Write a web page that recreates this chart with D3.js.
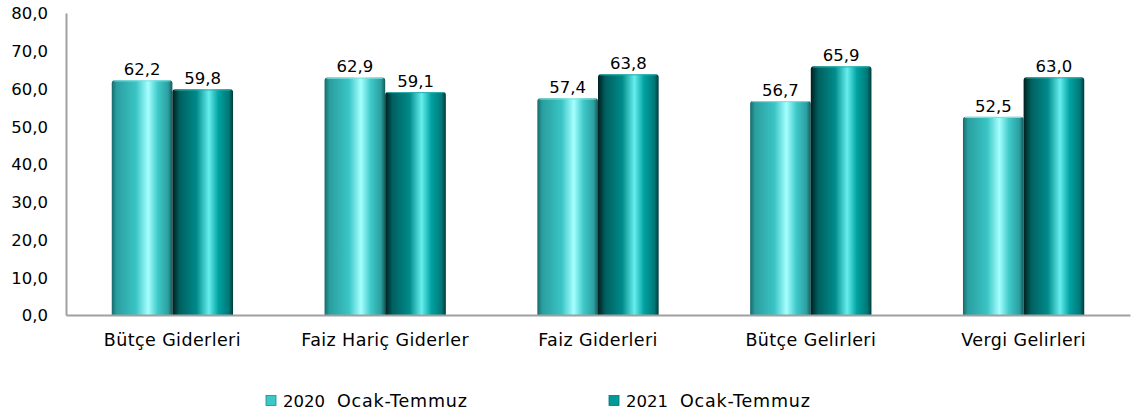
<!DOCTYPE html>
<html><head><meta charset="utf-8">
<script src="https://cdn.jsdelivr.net/npm/d3@7"></script>
<style>body{margin:0;background:#fff}svg{display:block}text{font-family:"DejaVu Sans",sans-serif;fill:#000}</style>
</head><body><svg id="c" width="1138" height="414"></svg>
<script>
const categories = ["Bütçe Giderleri","Faiz Hariç Giderler","Faiz Giderleri","Bütçe Gelirleri","Vergi Gelirleri"];
const seriesYears = ["2020","2021"];
const seriesPeriod = "Ocak-Temmuz";
const values2020 = [62.2,62.9,57.4,56.7,52.5];
const values2021 = [59.8,59.1,63.8,65.9,63.0];
const yTicks = [0,10,20,30,40,50,60,70,80];

const FONT = "'DejaVu Sans', sans-serif";
const FS = 17.5, NFS = 16.5;
const svg = d3.select("#c");
const m = {l:66, r:1130, t:13, b:315};
const x = d3.scaleBand().domain(categories).range([m.l, m.r]).paddingInner(0.43).paddingOuter(0.215);
const x1 = d3.scaleBand().domain(seriesYears).range([0, x.bandwidth()]).padding(0);
const y = d3.scaleLinear().domain([0,80]).range([m.b, m.t]);
const fmt = v => d3.format(".1f")(v).replace(".", ",");

const defs = svg.append("defs");
const grads = [
  [[0,"#176a6b"],[0.08,"#2a9e9f"],[0.4,"#3ac4c4"],[0.6,"#a6ffff"],[0.76,"#3fc9c9"],[0.93,"#2b9fa0"],[1,"#155a5a"]],
  [[0,"#001f1f"],[0.12,"#005f5f"],[0.4,"#008b8b"],[0.6,"#66eeee"],[0.76,"#00a2a2"],[0.93,"#007878"],[1,"#003a3a"]]
];
grads.forEach((g,i)=>{
  const lg = defs.append("linearGradient").attr("id","g"+i).attr("x1","0").attr("x2","1").attr("y1","0").attr("y2","0");
  g.forEach(s=>lg.append("stop").attr("offset",s[0]).attr("stop-color",s[1]));
});

// axes
const yAxis = d3.axisLeft(y).tickValues(yTicks).tickFormat(fmt).tickSize(0).tickPadding(18);
const ga = svg.append("g").attr("transform",`translate(${m.l},0)`).call(yAxis);
ga.select(".domain").attr("stroke","#a0a0a0").attr("stroke-width",2);
ga.selectAll("text").attr("font-size",NFS).attr("fill","#000").attr("dy","0.35em").style("font-family",FONT);

const data = categories.map((c,i)=>({c, vals:[values2020[i], values2021[i]]}));
const bw = x1.bandwidth();
const r = 3;
const barPath = (x0,w,yt,yb)=>`M${x0},${yb}V${yt+r}Q${x0},${yt} ${x0+r},${yt}H${x0+w-r}Q${x0+w},${yt} ${x0+w},${yt+r}V${yb}Z`;

data.forEach(d=>{
  d.vals.forEach((v,j)=>{
    const bx = x(d.c)+x1(seriesYears[j]);
    svg.append("path").attr("d",barPath(bx,bw,y(v),y(0))).attr("fill",`url(#g${j})`);
    svg.append("path").attr("d",`M${bx+2},${y(v)+0.7}H${bx+bw-2}`).attr("stroke",j? "#2fb0b0":"#7fe0e0").attr("stroke-width",1);
    svg.append("text").attr("x",bx+bw/2).attr("y",y(v)-11).attr("dy","0.35em").attr("text-anchor","middle")
      .attr("font-size",NFS).text(fmt(v));
  });
});

const xAxis = d3.axisBottom(x).tickSize(0).tickPadding(19);
const gx = svg.append("g").attr("transform",`translate(0,${m.b})`).call(xAxis);
gx.select(".domain").attr("stroke","#a0a0a0").attr("stroke-width",2);
gx.selectAll("text").attr("font-size",FS).attr("fill","#000").style("font-family",FONT).style("letter-spacing","0.4px");

// legend
const legX = [266, 609];
seriesYears.forEach((s,i)=>{
  svg.append("rect").attr("x",legX[i]).attr("y",395.5).attr("width",10).attr("height",10)
    .attr("fill", i? "#009a9a":"#3cc8c8").attr("stroke", i? "#007777":"#1a8a8a").attr("stroke-width",0.8);
  const t = svg.append("text").attr("y",401).attr("dy","0.35em").attr("font-size",FS);
  t.append("tspan").attr("x",legX[i]+17).attr("font-size",NFS).text(s);
  t.append("tspan").attr("x",legX[i]+71).style("letter-spacing","0.8px").text(seriesPeriod);
});
</script></body></html>
